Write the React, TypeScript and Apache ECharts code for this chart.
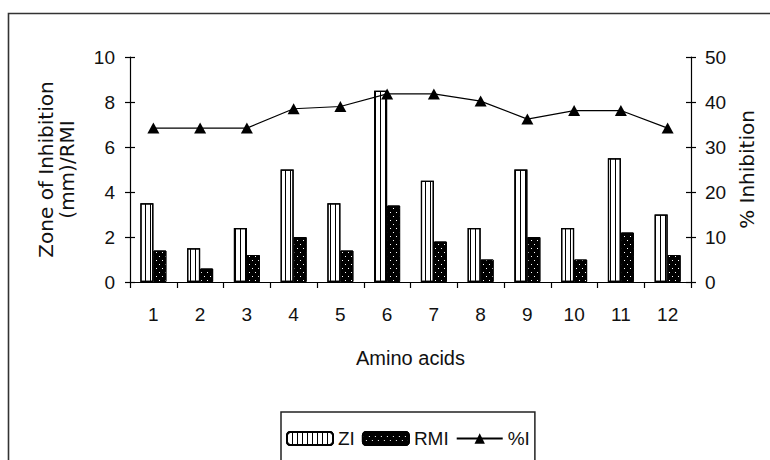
import React, { useEffect, useRef } from "react";
import * as echarts from "echarts";

const categories = ["1", "2", "3", "4", "5", "6", "7", "8", "9", "10", "11", "12"];
const ziValues = [3.5, 1.5, 2.4, 5.0, 3.5, 8.5, 4.5, 2.4, 5.0, 2.4, 5.5, 3.0];
const rmiValues = [1.4, 0.6, 1.2, 2.0, 1.4, 3.4, 1.8, 1.0, 2.0, 1.0, 2.2, 1.2];
const inhibitionValues = [34.2, 34.2, 34.2, 38.5, 39.0, 41.8, 41.8, 40.2, 36.2, 38.1, 38.1, 34.2];
const leftAxisRange = [0, 10, 2];
const rightAxisRange = [0, 50, 10];
const seriesNames = ["ZI", "RMI", "%I"];

const NARROW = "'Liberation Sans', Arial, sans-serif";
const WIDE = "'DejaVu Sans', sans-serif";
const INK = "#111";

export default function App() {
  const ref = useRef<HTMLDivElement>(null);
  useEffect(() => {
    if (!ref.current) return;
    const chart = echarts.init(ref.current, null, { renderer: "svg" });
    const tickLabel = { fontFamily: NARROW, fontSize: 19, color: INK };
    const baseY = (range: number[]) => ({
      type: "value" as const,
      min: range[0],
      max: range[1],
      interval: range[2],
      splitLine: { show: false },
    });
    chart.setOption({
      animation: false,
      backgroundColor: "#fff",
      grid: { left: 130, right: 79, top: 57, bottom: 178, containLabel: false },
      graphic: [
        {
          type: "rect",
          shape: { x: 8.5, y: 13.5, width: 800, height: 500 },
          style: { fill: "none", stroke: "#333", lineWidth: 1.6 },
          silent: true,
        },
      ],
      legend: {
        data: seriesNames,
        left: 281,
        top: 412,
        orient: "horizontal",
        padding: [17, 5, 14, 5],
        itemGap: 7,
        itemWidth: 46,
        itemHeight: 13,
        borderColor: "#222",
        borderWidth: 1.5,
        textStyle: { fontFamily: NARROW, fontSize: 19, color: INK },
      },
      xAxis: {
        type: "category",
        data: categories,
        boundaryGap: true,
        axisLine: { lineStyle: { color: "#000", width: 1.2 } },
        axisTick: { show: true, length: 6, interval: 0, lineStyle: { color: "#000", width: 1.2 } },
        axisLabel: { ...tickLabel, margin: 23, interval: 0 },
        name: "Amino acids",
        nameLocation: "middle",
        nameGap: 66,
        nameTextStyle: { fontFamily: NARROW, fontSize: 20, color: INK },
      },
      yAxis: [
        {
          ...baseY(leftAxisRange),
          position: "left",
          axisLine: { show: true, lineStyle: { color: "#000", width: 1.2 } },
          axisTick: { show: true, length: 5, lineStyle: { color: "#000", width: 1.2 } },
          axisLabel: { ...tickLabel, margin: 15 },
          name: "Zone of Inhibition\n(mm)/RMI",
          nameLocation: "middle",
          nameRotate: 90,
          nameGap: 53,
          nameTextStyle: { fontFamily: WIDE, fontSize: 20, lineHeight: 21, color: INK, align: "center" },
        },
        {
          ...baseY(rightAxisRange),
          position: "right",
          axisLine: { show: true, lineStyle: { color: "#000", width: 1.2 } },
          axisTick: { show: true, length: 5, lineStyle: { color: "#000", width: 1.2 } },
          axisLabel: { ...tickLabel, margin: 14 },
          name: "% Inhibition",
          nameLocation: "middle",
          nameRotate: 90,
          nameGap: 46,
          nameTextStyle: { fontFamily: WIDE, fontSize: 20, color: INK },
        },
        {
          ...baseY(leftAxisRange),
          position: "left",
          axisLine: { show: false },
          axisTick: { show: true, inside: true, length: 5, lineStyle: { color: "#000", width: 1.2 } },
          axisLabel: { show: false },
        },
        {
          ...baseY(rightAxisRange),
          position: "right",
          axisLine: { show: false },
          axisTick: { show: true, inside: true, length: 5, lineStyle: { color: "#000", width: 1.2 } },
          axisLabel: { show: false },
        },
      ],
      series: [
        {
          name: seriesNames[0],
          type: "bar",
          yAxisIndex: 0,
          data: ziValues,
          barWidth: 13,
          barGap: "0%",
          itemStyle: {
            color: "#fff",
            borderColor: "#000",
            borderWidth: 1.2,
            decal: {
              symbol: "rect",
              symbolSize: 1,
              color: "#000",
              backgroundColor: "#fff",
              dashArrayX: [1, 3.3],
              dashArrayY: [10, 0],
              rotation: 0,
            },
          },
        },
        {
          name: seriesNames[1],
          type: "bar",
          yAxisIndex: 0,
          data: rmiValues,
          barWidth: 13,
          barGap: "0%",
          itemStyle: {
            color: "#000",
            borderColor: "#000",
            borderWidth: 1,
            decal: {
              symbol: "rect",
              symbolSize: 1,
              color: "#fff",
              backgroundColor: "#000",
              dashArrayX: [[1, 5], [0, 3, 1, 2]],
              dashArrayY: [1, 2.5],
              rotation: 0,
            },
          },
        },
        {
          name: seriesNames[2],
          type: "line",
          yAxisIndex: 1,
          data: inhibitionValues,
          symbol: "triangle",
          symbolSize: [12, 11],
          lineStyle: { color: "#000", width: 1.2 },
          itemStyle: { color: "#000" },
          z: 5,
        },
      ],
    });
    return () => chart.dispose();
  }, []);
  return (
    <div
      ref={ref}
      style={{ position: "fixed", left: 0, top: 0, width: 770, height: 460 }}
    />
  );
}
